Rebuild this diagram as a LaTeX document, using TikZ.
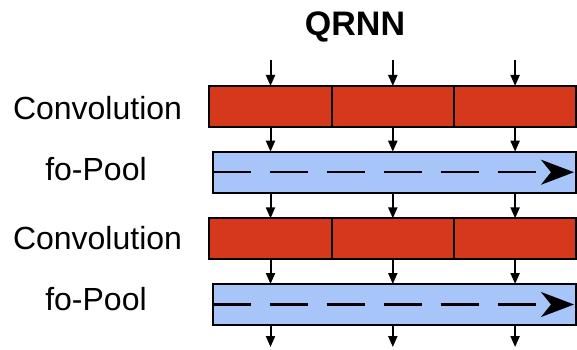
\documentclass[tikz,border=0pt]{standalone}
\usepackage{fontspec}
\setmainfont{Liberation Sans}
\usetikzlibrary{arrows.meta}
\definecolor{convred}{RGB}{213,56,27}
\definecolor{poolblue}{RGB}{168,197,250}
\begin{document}
\begin{tikzpicture}[x=1pt,y=-1pt,
  cell/.style={draw=black, line width=2pt, fill=convred, minimum width=122.3pt, minimum height=40.7pt, inner sep=0pt, outer sep=0pt},
  pool/.style={draw=black, line width=2pt, fill=poolblue, minimum width=362.8pt, minimum height=41pt, inner sep=0pt, outer sep=0pt},
  flow/.style={line width=2pt, -{Triangle[length=11pt,width=9pt]}},
  poolline/.style={line width=2.2pt, dash pattern=on 38pt off 19pt, -{Stealth[length=33pt,width=25pt,inset=10pt]}},
  lbl/.style={anchor=base, font=\fontsize{32}{38}\selectfont, inner sep=0pt},
  ttl/.style={anchor=base, font=\fontsize{34}{40}\selectfont\bfseries, inner sep=0pt}]
\useasboundingbox (0,0) rectangle (577,349);

\node[ttl] (title) at (355,35) {QRNN};

% row 1: convolution
\node[cell] (c1a) at (270.5,106.3) {};
\node[cell] (c1b) at (392.8,106.3) {};
\node[cell] (c1c) at (515.1,106.3) {};
% row 2: fo-pool
\node[pool] (p1) at (394.1,172.2) {};
% row 3: convolution
\node[cell] (c2a) at (270.5,238.7) {};
\node[cell] (c2b) at (392.8,238.7) {};
\node[cell] (c2c) at (515.1,238.7) {};
% row 4: fo-pool
\node[pool] (p2) at (394.1,304.5) {};

\node[lbl] (l1) at (97.5,119) {Convolution};
\node[lbl] (l2) at (96,180) {fo-Pool};
\node[lbl] (l3) at (97.5,249) {Convolution};
\node[lbl] (l4) at (96,310) {fo-Pool};

% input and output points
\foreach \n/\x in {a/270.5,b/392.8,c/515.1}{
  \coordinate (in\n) at (\x,60);
  \coordinate (out\n) at (\x,347);
}

\foreach \n in {a,b,c}{
  \draw[flow] (in\n) -- (c1\n.north);
  \draw[flow] (c1\n.south) -- (c1\n.south |- p1.north);
  \draw[flow] (c2\n.north |- p1.south) -- (c2\n.north);
  \draw[flow] (c2\n.south) -- (c2\n.south |- p2.north);
  \draw[flow] (out\n |- p2.south) -- (out\n);
}

\draw[poolline] (p1.west) -- ([xshift=-1.5pt]p1.east);
\draw[poolline] (p2.west) -- ([xshift=-1.5pt]p2.east);
\end{tikzpicture}
\end{document}
